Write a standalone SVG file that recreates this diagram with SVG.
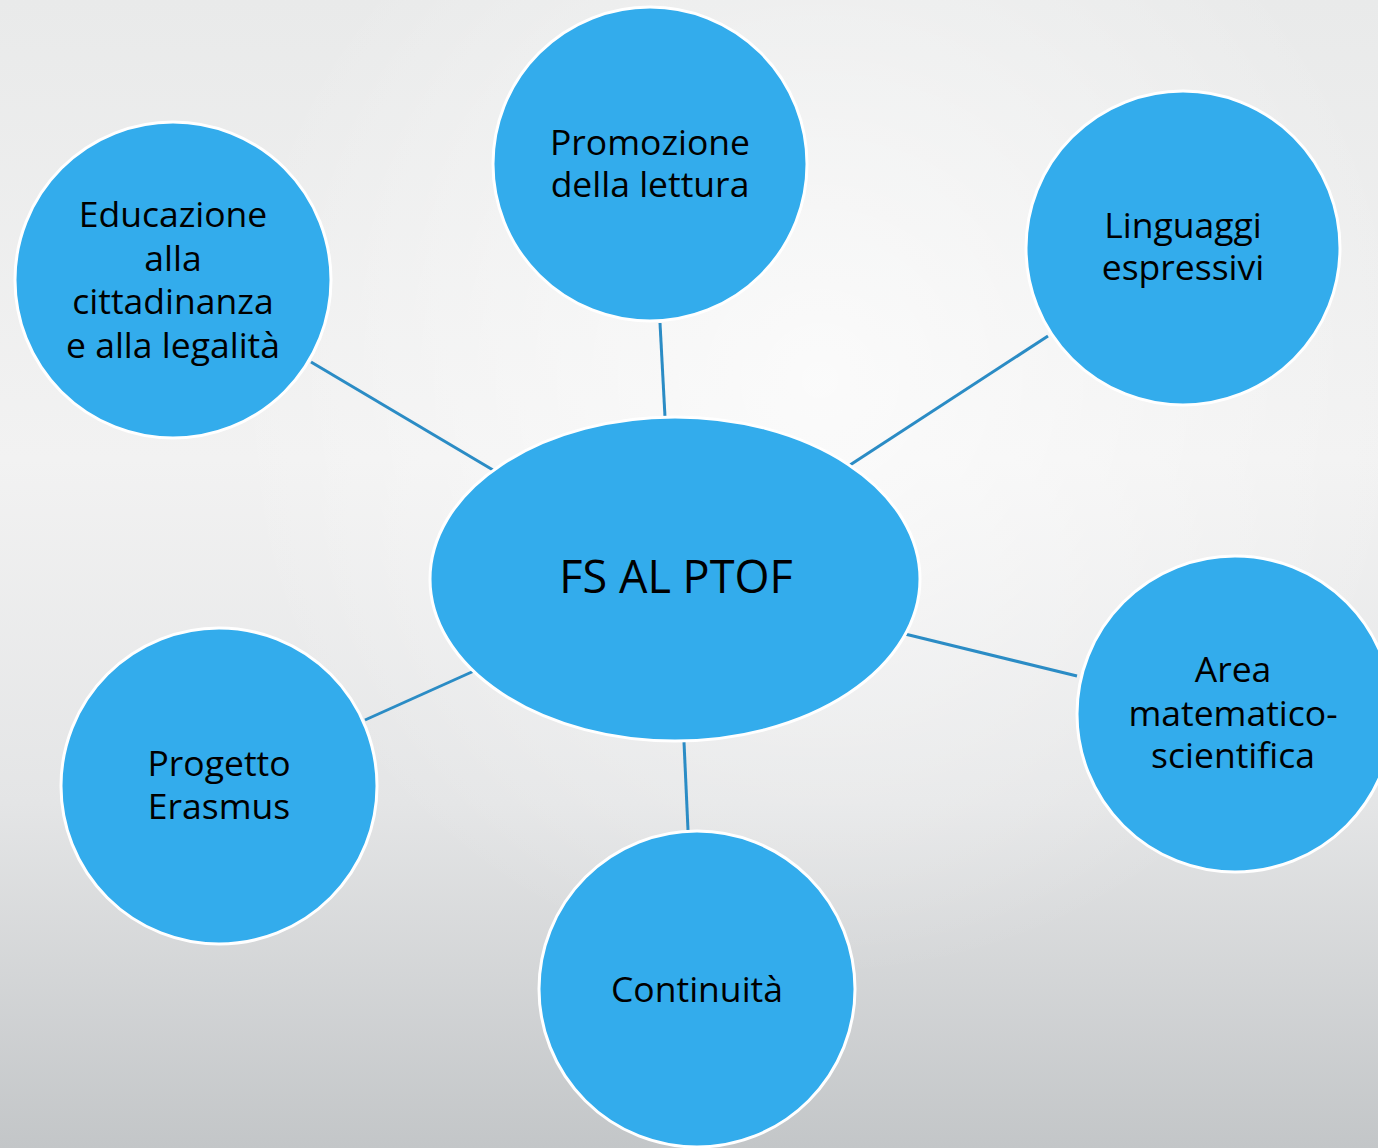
<svg xmlns="http://www.w3.org/2000/svg" width="1378" height="1148" viewBox="0 0 1378 1148">
<defs>
<linearGradient id="bg" x1="0" y1="0" x2="0" y2="1">
<stop offset="0" stop-color="#e9eaea"/>
<stop offset="0.4" stop-color="#f2f2f2"/>
<stop offset="0.7" stop-color="#e4e5e6"/>
<stop offset="1" stop-color="#c3c6c8"/>
</linearGradient>
<radialGradient id="glow" gradientUnits="userSpaceOnUse" cx="820" cy="380" r="600">
<stop offset="0" stop-color="#ffffff" stop-opacity="0.7"/>
<stop offset="1" stop-color="#ffffff" stop-opacity="0"/>
</radialGradient>
<style>
.n{fill:#33acec;stroke:#ffffff;stroke-width:3}
.t{font-family:"Open Sans","Noto Sans",sans-serif;font-size:35.5px;fill:#000;text-anchor:middle}
.c{stroke:#2b8cc5;stroke-width:3;fill:none}
</style>
</defs>
<rect x="0" y="0" width="1378" height="1148" fill="url(#bg)"/>
<rect x="0" y="0" width="1378" height="1148" fill="url(#glow)"/>
<g id="connectors">
<line class="c" x1="660" y1="323" x2="665" y2="417"/>
<line class="c" x1="1048" y1="336" x2="850" y2="465"/>
<line class="c" x1="311" y1="362" x2="493" y2="470"/>
<line class="c" x1="905" y1="634" x2="1077" y2="676"/>
<line class="c" x1="365" y1="720" x2="474" y2="671"/>
<line class="c" x1="684" y1="742" x2="688" y2="830"/>
</g>
<g id="center">
<ellipse class="n" cx="675" cy="579" rx="245" ry="162"/>
<text class="t" x="676" y="593" style="font-size:45px">FS AL PTOF</text>
</g>
<g id="promozione">
<circle class="n" cx="650" cy="164" r="157"/>
<text class="t" x="650" y="155">Promozione</text>
<text class="t" x="650" y="197">della lettura</text>
</g>
<g id="linguaggi">
<circle class="n" cx="1183" cy="248" r="157"/>
<text class="t" x="1183" y="238">Linguaggi</text>
<text class="t" x="1183" y="280">espressivi</text>
</g>
<g id="educazione">
<circle class="n" cx="173" cy="280" r="158"/>
<text class="t" x="173" y="227">Educazione</text>
<text class="t" x="173" y="271">alla</text>
<text class="t" x="173" y="314">cittadinanza</text>
<text class="t" x="173" y="358">e alla legalità</text>
</g>
<g id="area">
<circle class="n" cx="1235" cy="714" r="158"/>
<text class="t" x="1233" y="682">Area</text>
<text class="t" x="1233" y="726">matematico-</text>
<text class="t" x="1233" y="768">scientifica</text>
</g>
<g id="progetto">
<circle class="n" cx="219" cy="786" r="158"/>
<text class="t" x="219" y="776">Progetto</text>
<text class="t" x="219" y="819">Erasmus</text>
</g>
<g id="continuita">
<circle class="n" cx="697" cy="989" r="158"/>
<text class="t" x="697" y="1002">Continuità</text>
</g>
</svg>
